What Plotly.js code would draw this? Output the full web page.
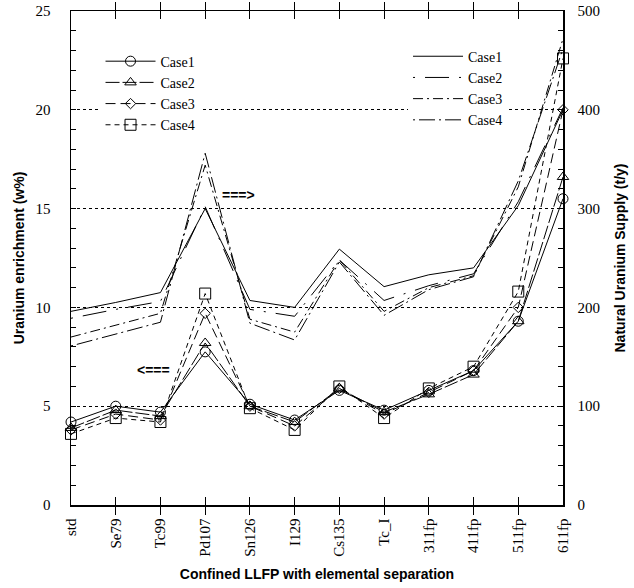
<!DOCTYPE html>
<html>
<head>
<meta charset="utf-8">
<script src="https://cdn.plot.ly/plotly-3.0.1.min.js"></script>
<style>html,body{margin:0;padding:0;background:#fff;}#chart{width:634px;height:588px;}</style>
</head>
<body>
<div id="chart"></div>
<script>
// Categories (confined LLFP)
const categories = ["std","Se79","Tc99","Pd107","Sn126","I129","Cs135","Tc_I","311fp","411fp","511fp","611fp"];
const caseNames = ["Case1","Case2","Case3","Case4"];

// Uranium enrichment (w%), left axis
const enrichCase1 = [4.2, 5.0, 4.7, 7.75, 5.1, 4.3, 5.8, 4.8, 5.8, 6.8, 9.3, 15.5];
const enrichCase2 = [3.9, 4.8, 4.5, 8.2, 5.0, 4.2, 5.9, 4.7, 5.6, 6.6, 9.3, 16.6];
const enrichCase3 = [3.8, 4.6, 4.3, 9.7, 5.0, 4.0, 5.9, 4.6, 5.7, 6.8, 10.0, 20.0];
const enrichCase4 = [3.6, 4.4, 4.2, 10.7, 4.9, 3.8, 6.0, 4.4, 5.9, 7.0, 10.8, 22.6];

// Natural uranium supply (t/y), right axis
const supplyCase1 = [196, 205, 215, 300, 207, 200, 259, 221, 233, 240, 303, 400];
const supplyCase2 = [189, 198, 206, 302, 198, 191, 248, 207, 222, 234, 307, 402];
const supplyCase3 = [170, 182, 194, 344, 188, 175, 248, 196, 220, 232, 322, 472];
const supplyCase4 = [161, 173, 185, 356, 184, 167, 246, 192, 218, 231, 328, 462];

const enrichSeries = [enrichCase1, enrichCase2, enrichCase3, enrichCase4];
const supplySeries = [supplyCase1, supplyCase2, supplyCase3, supplyCase4];

const markerSymbols = ["circle-open","triangle-up-open","diamond-open","square-open"];
const markerSizes = [10, 10, 8, 11];
const enrichDash = ["solid","14px,3px","10px,5px","5px,4px"];
const supplyDash = ["solid","2px,10px,24px,10px","10px,4px,2px,4px","2px,4px,16px,4px"];

const traces = [];
enrichSeries.forEach((vals, i) => {
  traces.push({
    x: categories, y: vals, name: caseNames[i], type: "scatter", mode: "lines+markers",
    line: {color: "#000", width: 1, dash: enrichDash[i]},
    marker: {symbol: markerSymbols[i], size: markerSizes[i], color: "#000", line: {width: 1, color: "#000"}},
    cliponaxis: false, yaxis: "y", legend: "legend"
  });
});
supplySeries.forEach((vals, i) => {
  traces.push({
    x: categories, y: vals, name: caseNames[i], type: "scatter", mode: "lines",
    line: {color: "#000", width: 1, dash: supplyDash[i]},
    cliponaxis: false, yaxis: "y2", legend: "legend2"
  });
});

const tickFont = {family: "Liberation Serif, DejaVu Serif, serif", size: 15, color: "#000"};
const titleFont = {family: "Liberation Sans, Arial, sans-serif", size: 14, color: "#000", weight: "bold"};
const legendFont = {family: "Liberation Serif, DejaVu Serif, serif", size: 14, color: "#000"};
const arrowFont = {family: "Liberation Sans, Arial, sans-serif", size: 14, color: "#000", weight: "bold"};

const layout = {
  width: 634, height: 588,
  margin: {l: 71, r: 71, t: 11, b: 83},
  paper_bgcolor: "#fff", plot_bgcolor: "#fff",
  showlegend: true,
  xaxis: {
    type: "category", range: [0, 11],
    tickangle: -90, tickfont: tickFont,
    ticks: "inside", ticklen: 8, tickcolor: "#000",
    showline: true, linecolor: "#000", linewidth: 1.5, mirror: "allticks",
    showgrid: false, zeroline: false, ticklabelstandoff: 6,
    title: {text: "Confined LLFP with elemental separation", font: titleFont, standoff: 13}
  },
  yaxis: {
    range: [0, 25], dtick: 5, tick0: 0,
    ticks: "inside", ticklen: 5, tickcolor: "#000", tickfont: tickFont,
    minor: {dtick: 1, ticks: "inside", ticklen: 5, tickcolor: "#000", showgrid: false},
    showline: true, linecolor: "#000", linewidth: 1.5,
    showgrid: true, gridcolor: "#000", griddash: "dot", gridwidth: 1,
    zeroline: false, ticklabelstandoff: 16,
    title: {text: "Uranium enrichment (w%)", font: titleFont, standoff: 7}
  },
  yaxis2: {
    overlaying: "y", side: "right", range: [0, 500], dtick: 100, tick0: 0,
    ticks: "inside", ticklen: 5, tickcolor: "#000", tickfont: tickFont,
    minor: {dtick: 20, ticks: "inside", ticklen: 5, tickcolor: "#000", showgrid: false},
    showline: true, linecolor: "#000", linewidth: 1.5,
    showgrid: false, zeroline: false, ticklabelstandoff: 10,
    title: {text: "Natural Uranium Supply (t/y)", font: titleFont, standoff: 16}
  },
  legend: {
    x: 0.06, y: 0.93, xanchor: "left", yanchor: "top",
    bgcolor: "#fff", borderwidth: 0, itemwidth: 50,
    font: legendFont, tracegroupgap: 0
  },
  legend2: {
    x: 0.685, y: 0.94, xanchor: "left", yanchor: "top",
    bgcolor: "#fff", borderwidth: 0, itemwidth: 50,
    font: legendFont, tracegroupgap: 0
  },
  annotations: [
    {xref: "paper", yref: "paper", x: 0.34, y: 0.628, xanchor: "center", yanchor: "middle",
     text: "===>", showarrow: false, font: arrowFont},
    {xref: "paper", yref: "paper", x: 0.167, y: 0.273, xanchor: "center", yanchor: "middle",
     text: "<===", showarrow: false, font: arrowFont}
  ]
};

Plotly.newPlot("chart", traces, layout, {displayModeBar: false, staticPlot: true});
</script>
</body>
</html>
